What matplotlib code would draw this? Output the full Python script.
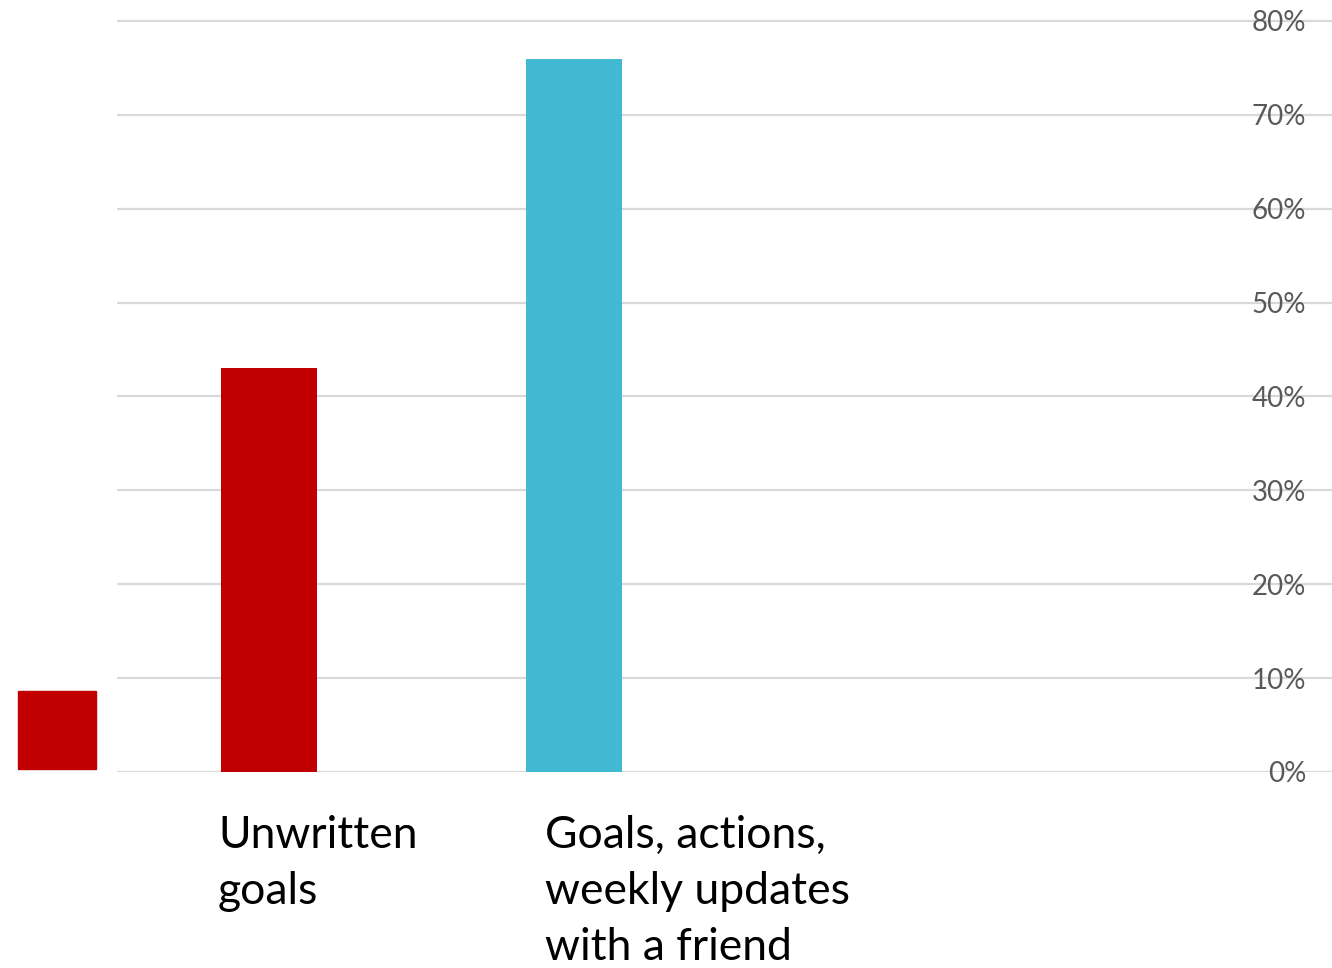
import matplotlib
matplotlib.use("Agg")
import matplotlib.pyplot as plt
from matplotlib.patches import Rectangle
from matplotlib.ticker import PercentFormatter

categories = ["Unwritten\ngoals", "Goals, actions,\nweekly updates\nwith a friend"]
values = [0.43, 0.76]
bar_colors = ["#C00000", "#41B9D3"]
yticks = [0.0, 0.1, 0.2, 0.3, 0.4, 0.5, 0.6, 0.7, 0.8]

W, H = 1332, 968
fig = plt.figure(figsize=(W / 100, H / 100), dpi=100)
plt.rcParams['font.family'] = ['Lato', 'DejaVu Sans']

ax_left = 117 / W
ax_bottom = (H - 772) / H
ax_top = (H - 11.6) / H
ax = fig.add_axes([ax_left, ax_bottom, 1 - ax_left, ax_top - ax_bottom])

x = list(range(len(values)))
ax.bar(x, values, width=0.315, color=bar_colors, zorder=3)
ax.set_xlim(-0.498, 3.485)
ax.set_ylim(0, 0.81)
ax.set_yticks(yticks)
ax.yaxis.set_major_formatter(PercentFormatter(1.0, decimals=0))
ax.grid(axis='y', color='#D9D9D9', linewidth=1.6, zorder=0)
ax.set_xticks([])
for s in ax.spines.values():
    s.set_visible(False)
ax.tick_params(axis='y', length=0, labelleft=False, labelright=True,
               pad=-18.7, labelsize=20, labelcolor='#595959')
for lab in ax.get_yticklabels():
    lab.set_horizontalalignment('right')

# category labels beneath bars
label_px = [218, 545]
for lbl, px in zip(categories, label_px):
    fig.text(px / W, (H - 815) / H, lbl, ha='left', va='top', fontsize=32,
             color='black', linespacing=1.45)

# red square marker at left
fig.patches.append(Rectangle((18 / W, (H - 769) / H), 78 / W, 78 / H,
                             transform=fig.transFigure, color="#C00000"))

fig.savefig("out.png", dpi=100)
